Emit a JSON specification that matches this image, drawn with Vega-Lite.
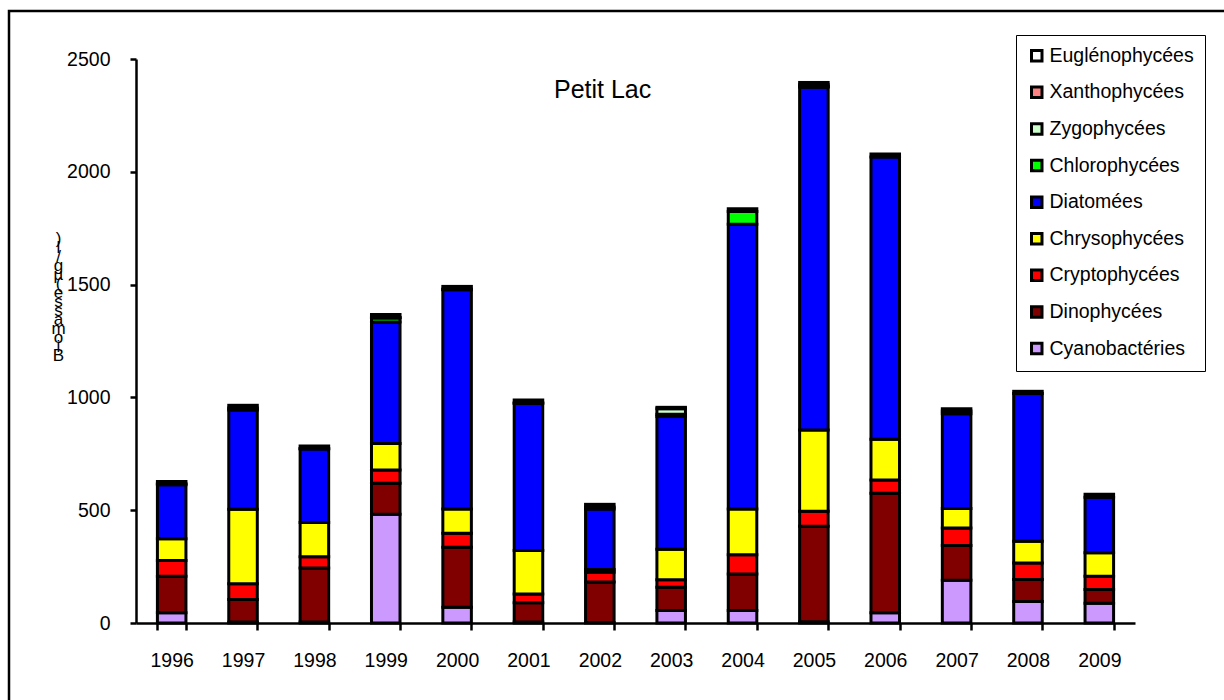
{
  "$schema": "https://vega.github.io/schema/vega-lite/v6.json",
  "width": 1218,
  "height": 692,
  "autosize": {"type": "none"},
  "padding": {"left": 9, "top": 11, "right": -3, "bottom": -3},
  "background": "white",
  "config": {
    "font": "Liberation Sans",
    "view": {"stroke": "black", "strokeWidth": 2.5},
    "axis": {"grid": false, "domainColor": "black", "tickColor": "black", "labelColor": "black", "labelFont": "Liberation Sans", "labelFontSize": 19.5, "domainWidth": 2.5, "tickWidth": 2.5},
    "legend": {"strokeColor": "black"}
  },
  "title": {
    "text": "Petit Lac",
    "fontSize": 25,
    "font": "Liberation Sans",
    "fontWeight": "normal",
    "color": "black",
    "anchor": "start",
    "frame": "group",
    "dx": 545,
    "offset": -112,
    "baseline": "alphabetic"
  },
  "datasets": {
    "groups": [
      {"group": "Cyanobactéries", "k": 1},
      {"group": "Dinophycées", "k": 2},
      {"group": "Cryptophycées", "k": 3},
      {"group": "Chrysophycées", "k": 4},
      {"group": "Diatomées", "k": 5},
      {"group": "Chlorophycées", "k": 6},
      {"group": "Zygophycées", "k": 7},
      {"group": "Xanthophycées", "k": 8},
      {"group": "Euglénophycées", "k": 9}
    ]
  },
  "data": {
    "values": [
      {"year": "1996", "group": "Cyanobactéries", "value": 45},
      {"year": "1996", "group": "Dinophycées", "value": 162},
      {"year": "1996", "group": "Cryptophycées", "value": 70},
      {"year": "1996", "group": "Chrysophycées", "value": 96},
      {"year": "1996", "group": "Diatomées", "value": 240},
      {"year": "1996", "group": "Chlorophycées", "value": 4},
      {"year": "1996", "group": "Euglénophycées", "value": 10},
      {"year": "1997", "group": "Cyanobactéries", "value": 4},
      {"year": "1997", "group": "Dinophycées", "value": 100},
      {"year": "1997", "group": "Cryptophycées", "value": 70},
      {"year": "1997", "group": "Chrysophycées", "value": 330},
      {"year": "1997", "group": "Diatomées", "value": 440},
      {"year": "1997", "group": "Chlorophycées", "value": 9},
      {"year": "1997", "group": "Euglénophycées", "value": 12},
      {"year": "1998", "group": "Cyanobactéries", "value": 4},
      {"year": "1998", "group": "Dinophycées", "value": 240},
      {"year": "1998", "group": "Cryptophycées", "value": 50},
      {"year": "1998", "group": "Chrysophycées", "value": 152},
      {"year": "1998", "group": "Diatomées", "value": 325},
      {"year": "1998", "group": "Chlorophycées", "value": 2},
      {"year": "1998", "group": "Euglénophycées", "value": 12},
      {"year": "1999", "group": "Cyanobactéries", "value": 482},
      {"year": "1999", "group": "Dinophycées", "value": 138},
      {"year": "1999", "group": "Cryptophycées", "value": 58},
      {"year": "1999", "group": "Chrysophycées", "value": 118},
      {"year": "1999", "group": "Diatomées", "value": 538},
      {"year": "1999", "group": "Chlorophycées", "value": 18},
      {"year": "1999", "group": "Zygophycées", "value": 2},
      {"year": "1999", "group": "Euglénophycées", "value": 13},
      {"year": "2000", "group": "Cyanobactéries", "value": 70},
      {"year": "2000", "group": "Dinophycées", "value": 266},
      {"year": "2000", "group": "Cryptophycées", "value": 62},
      {"year": "2000", "group": "Chrysophycées", "value": 107},
      {"year": "2000", "group": "Diatomées", "value": 972},
      {"year": "2000", "group": "Chlorophycées", "value": 3},
      {"year": "2000", "group": "Euglénophycées", "value": 12},
      {"year": "2001", "group": "Cyanobactéries", "value": 4},
      {"year": "2001", "group": "Dinophycées", "value": 86},
      {"year": "2001", "group": "Cryptophycées", "value": 39},
      {"year": "2001", "group": "Chrysophycées", "value": 192},
      {"year": "2001", "group": "Diatomées", "value": 652},
      {"year": "2001", "group": "Chlorophycées", "value": 3},
      {"year": "2001", "group": "Euglénophycées", "value": 12},
      {"year": "2002", "group": "Cyanobactéries", "value": 2},
      {"year": "2002", "group": "Dinophycées", "value": 180},
      {"year": "2002", "group": "Cryptophycées", "value": 43},
      {"year": "2002", "group": "Chrysophycées", "value": 12},
      {"year": "2002", "group": "Diatomées", "value": 268},
      {"year": "2002", "group": "Chlorophycées", "value": 9},
      {"year": "2002", "group": "Euglénophycées", "value": 12},
      {"year": "2003", "group": "Cyanobactéries", "value": 55},
      {"year": "2003", "group": "Dinophycées", "value": 103},
      {"year": "2003", "group": "Cryptophycées", "value": 34},
      {"year": "2003", "group": "Chrysophycées", "value": 135},
      {"year": "2003", "group": "Diatomées", "value": 588},
      {"year": "2003", "group": "Chlorophycées", "value": 10},
      {"year": "2003", "group": "Zygophycées", "value": 25},
      {"year": "2003", "group": "Euglénophycées", "value": 6},
      {"year": "2004", "group": "Cyanobactéries", "value": 55},
      {"year": "2004", "group": "Dinophycées", "value": 162},
      {"year": "2004", "group": "Cryptophycées", "value": 85},
      {"year": "2004", "group": "Chrysophycées", "value": 203},
      {"year": "2004", "group": "Diatomées", "value": 1262},
      {"year": "2004", "group": "Chlorophycées", "value": 57},
      {"year": "2004", "group": "Euglénophycées", "value": 12},
      {"year": "2005", "group": "Cyanobactéries", "value": 5},
      {"year": "2005", "group": "Dinophycées", "value": 424},
      {"year": "2005", "group": "Cryptophycées", "value": 66},
      {"year": "2005", "group": "Chrysophycées", "value": 360},
      {"year": "2005", "group": "Diatomées", "value": 1520},
      {"year": "2005", "group": "Chlorophycées", "value": 3},
      {"year": "2005", "group": "Zygophycées", "value": 8},
      {"year": "2005", "group": "Euglénophycées", "value": 10},
      {"year": "2006", "group": "Cyanobactéries", "value": 45},
      {"year": "2006", "group": "Dinophycées", "value": 530},
      {"year": "2006", "group": "Cryptophycées", "value": 59},
      {"year": "2006", "group": "Chrysophycées", "value": 180},
      {"year": "2006", "group": "Diatomées", "value": 1252},
      {"year": "2006", "group": "Euglénophycées", "value": 13},
      {"year": "2007", "group": "Cyanobactéries", "value": 190},
      {"year": "2007", "group": "Dinophycées", "value": 153},
      {"year": "2007", "group": "Cryptophycées", "value": 78},
      {"year": "2007", "group": "Chrysophycées", "value": 86},
      {"year": "2007", "group": "Diatomées", "value": 420},
      {"year": "2007", "group": "Chlorophycées", "value": 13},
      {"year": "2007", "group": "Euglénophycées", "value": 10},
      {"year": "2008", "group": "Cyanobactéries", "value": 95},
      {"year": "2008", "group": "Dinophycées", "value": 98},
      {"year": "2008", "group": "Cryptophycées", "value": 73},
      {"year": "2008", "group": "Chrysophycées", "value": 96},
      {"year": "2008", "group": "Diatomées", "value": 655},
      {"year": "2008", "group": "Euglénophycées", "value": 10},
      {"year": "2009", "group": "Cyanobactéries", "value": 87},
      {"year": "2009", "group": "Dinophycées", "value": 62},
      {"year": "2009", "group": "Cryptophycées", "value": 58},
      {"year": "2009", "group": "Chrysophycées", "value": 104},
      {"year": "2009", "group": "Diatomées", "value": 246},
      {"year": "2009", "group": "Euglénophycées", "value": 14}
    ]
  },
  "transform": [
    {"lookup": "group", "from": {"data": {"name": "groups"}, "key": "group", "fields": ["k"]}}
  ],
  "mark": {"type": "bar", "stroke": "black", "strokeWidth": 3},
  "encoding": {
    "x": {
      "field": "year",
      "type": "nominal",
      "scale": {"range": [127, 1126], "paddingInner": 0.6, "paddingOuter": 0.3},
      "axis": {"title": null, "labelAngle": 0, "tickBand": "extent", "offset": -80, "tickSize": 7, "labelPadding": 21}
    },
    "y": {
      "field": "value",
      "type": "quantitative",
      "stack": "zero",
      "scale": {"domain": [0, 2500], "nice": false, "range": [612, 48]},
      "axis": {
        "values": [0, 500, 1000, 1500, 2000, 2500],
        "format": "d",
        "offset": -127,
        "tickSize": 6,
        "labelPadding": 20,
        "title": [")", "l", "/", "g", "µ", "(", "e", "s", "s", "a", "m", "o", "i", "B"],
        "titleAngle": 0,
        "titleFontSize": 17,
        "titleFontWeight": "normal",
        "titleFont": "Liberation Sans",
        "titleColor": "black",
        "titleLineHeight": 9,
        "titleAlign": "center",
        "titleBaseline": "top",
        "titleX": -78,
        "titleY": 219
      }
    },
    "order": {"field": "k", "type": "quantitative", "sort": "ascending"},
    "color": {
      "field": "group",
      "type": "nominal",
      "scale": {
        "domain": ["Euglénophycées", "Xanthophycées", "Zygophycées", "Chlorophycées", "Diatomées", "Chrysophycées", "Cryptophycées", "Dinophycées", "Cyanobactéries"],
        "range": ["#FFFFFF", "#FF8080", "#CCFFCC", "#00FF00", "#0000FF", "#FFFF00", "#FF0000", "#800000", "#CC99FF"]
      },
      "legend": {
        "title": null,
        "orient": "none",
        "legendX": 1007,
        "legendY": 24,
        "strokeColor": "black",
        "fillColor": "white",
        "padding": 11,
        "symbolType": "square",
        "symbolSize": 110,
        "symbolStrokeColor": "black",
        "symbolStrokeWidth": 3,
        "symbolOpacity": 1,
        "labelFontSize": 19.5,
        "labelFont": "Liberation Sans",
        "labelColor": "black",
        "labelOffset": 3,
        "rowPadding": 13.6
      }
    }
  }
}
